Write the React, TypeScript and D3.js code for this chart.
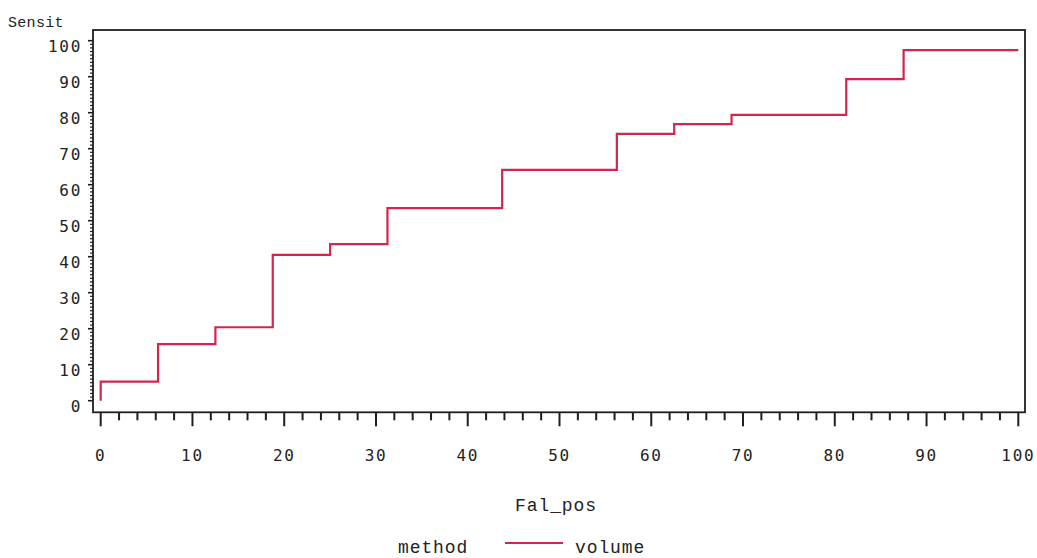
import React from "react";
import * as d3 from "d3";

// Step curve: false positive rate (Fal_pos) vs sensitivity (Sensit), method = volume
const falPos = [0, 0, 6.25, 12.5, 18.75, 25, 31.25, 43.75, 56.25, 62.5, 68.75, 81.25, 87.5, 100];
const sensit = [0, 5.3, 15.7, 20.4, 40.5, 43.5, 53.5, 64.1, 74.1, 76.8, 79.4, 89.3, 97.4, 97.4];

const xTickLabels = [0, 10, 20, 30, 40, 50, 60, 70, 80, 90, 100];
const yTickLabels = [0, 10, 20, 30, 40, 50, 60, 70, 80, 90, 100];

const seriesName = "volume";
const legendTitle = "method";
const xTitle = "Fal_pos";
const yTitle = "Sensit";

const W = 1037;
const H = 558;
const frame = { left: 93, right: 1025, top: 30, bottom: 412.3 };
const lineColor = "#d4264c";
const axisColor = "#1e1e1e";
const monoFont = "'Liberation Mono', 'Courier New', monospace";
const tickFont = "'DejaVu Sans Mono', monospace";

export default function App() {
  const x = d3.scaleLinear().domain([0, 100]).range([100.7, 1018.3]);
  const y = d3.scaleLinear().domain([0, 100]).range([400.7, 40.7]);

  const pts: [number, number][] = falPos.map((f, i) => [f, sensit[i]]);
  const path = d3
    .line<[number, number]>()
    .x((d) => x(d[0]))
    .y((d) => y(d[1]))
    .curve(d3.curveStepAfter)(pts) as string;

  const xMinor = d3.range(0, 100.001, 2).filter((v) => v % 10 !== 0);
  const yMinor = d3.range(0, 100.001, 1).filter((v) => v % 10 !== 0);

  return (
    <svg
      width={W}
      height={H}
      style={{ position: "absolute", left: 0, top: 0, background: "#fff" }}
    >
      {/* frame */}
      <rect
        x={frame.left}
        y={frame.top}
        width={frame.right - frame.left}
        height={frame.bottom - frame.top}
        fill="none"
        stroke={axisColor}
        strokeWidth={1.8}
      />

      {/* x-axis ticks */}
      {xTickLabels.map((v) => (
        <g key={"xt" + v}>
          <line x1={x(v)} x2={x(v)} y1={frame.bottom} y2={frame.bottom + 14} stroke={axisColor} strokeWidth={2} />
          <text
            x={x(v)}
            y={461}
            textAnchor="middle"
            fontFamily={tickFont}
            fontSize={16}
            letterSpacing={1.7}
            fill="#222"
          >
            {v}
          </text>
        </g>
      ))}
      {xMinor.map((v) => (
        <line key={"xm" + v} x1={x(v)} x2={x(v)} y1={frame.bottom} y2={frame.bottom + 8} stroke={axisColor} strokeWidth={2} />
      ))}

      {/* y-axis ticks */}
      {yTickLabels.map((v) => (
        <g key={"yt" + v}>
          <line x1={frame.left - 5} x2={frame.left} y1={y(v)} y2={y(v)} stroke={axisColor} strokeWidth={1.6} />
          <text
            x={82}
            y={y(v) + 11}
            textAnchor="end"
            fontFamily={tickFont}
            fontSize={16}
            letterSpacing={1.7}
            fill="#222"
          >
            {v}
          </text>
        </g>
      ))}
      {yMinor.map((v) => (
        <line key={"ym" + v} x1={frame.left - 3} x2={frame.left} y1={y(v)} y2={y(v)} stroke={axisColor} strokeWidth={1.2} />
      ))}

      {/* axis titles */}
      <text x={8} y={27} fontFamily={monoFont} fontSize={15} letterSpacing={0.3} fill="#222">
        {yTitle}
      </text>
      <text
        x={556}
        y={511}
        textAnchor="middle"
        fontFamily={monoFont}
        fontSize={18}
        letterSpacing={0.9}
        fill="#222"
      >
        {xTitle}
      </text>

      {/* data */}
      <path d={path} fill="none" stroke={lineColor} strokeWidth={2.2} strokeLinejoin="miter" />

      {/* legend */}
      <text x={398} y={553} fontFamily={monoFont} fontSize={18} letterSpacing={0.9} fill="#222">
        {legendTitle}
      </text>
      <line x1={505} x2={563} y1={543} y2={543} stroke={lineColor} strokeWidth={2.2} />
      <text x={575} y={553} fontFamily={monoFont} fontSize={18} letterSpacing={0.9} fill="#222">
        {seriesName}
      </text>
    </svg>
  );
}
